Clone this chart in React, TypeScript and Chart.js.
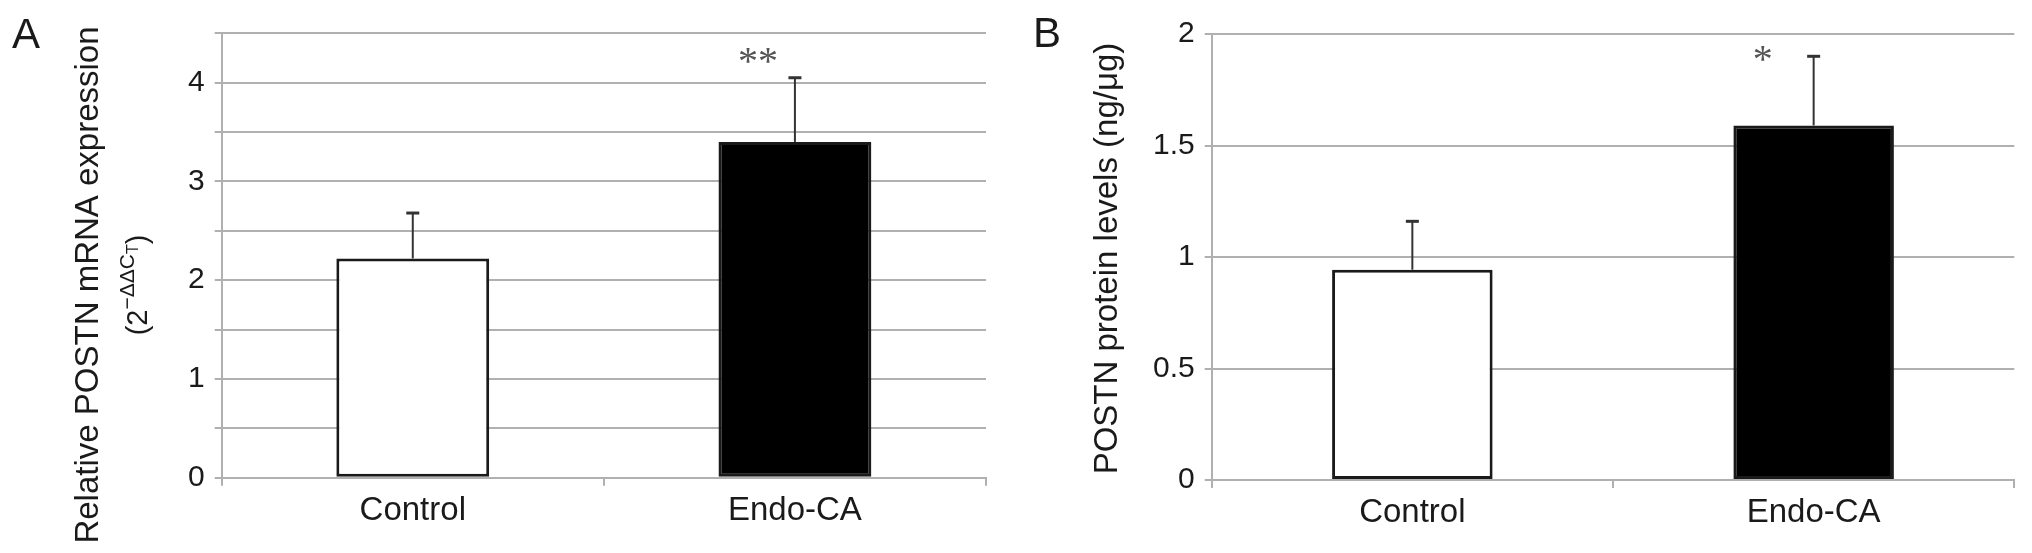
import React, { useEffect, useRef } from 'react';
import { Chart, registerables } from 'chart.js';

Chart.register(...registerables);

// ---------- data ----------
const categories = ['Control', 'Endo-CA'];

const mrnaValues = [2.22, 3.40];
const mrnaErrors = [0.46, 0.65];
const mrnaSignificance = ['', '**'];
const mrnaAxisMax = 4.5;
const mrnaAxisStep = 0.5;

const proteinValues = [0.943, 1.59];
const proteinErrors = [0.217, 0.31];
const proteinSignificance = ['', '*'];
const proteinAxisMax = 2;
const proteinAxisStep = 0.5;

// ---------- styles ----------
const FONT = '"Liberation Sans", Arial, Helvetica, sans-serif';
const SERIF = '"Liberation Serif", "Times New Roman", serif';
const TEXT = '#1a1a1a';
const GRID = '#b0b0b0';
const H = 553;

type Piece = { text: string; size: number; dy: number };

type Panel = {
  left: number;
  width: number;
  area: { left: number; right: number; top: number; bottom: number };
  letter: string;
  letterX: number;
  letterY: number;
  values: number[];
  errors: number[];
  stars: string[];
  starDx: number;
  starDy: number;
  max: number;
  step: number;
  integerLabelsOnly: boolean;
  titleX: number;
  titleCY: number;
  title: string;
  title2?: Piece[];
  title2X?: number;
};

const panels: Panel[] = [
  {
    left: 0,
    width: 1016,
    area: { left: 221.7, right: 986, top: 33.3, bottom: 477.7 },
    letter: 'A',
    letterX: 12,
    letterY: 48,
    values: mrnaValues,
    errors: mrnaErrors,
    stars: mrnaSignificance,
    starDx: -37,
    starDy: -21,
    max: mrnaAxisMax,
    step: mrnaAxisStep,
    integerLabelsOnly: true,
    titleX: 97.7,
    titleCY: 285,
    title: 'Relative POSTN mRNA expression',
    title2: [
      { text: '(', size: 29, dy: 0 },
      { text: '2', size: 29, dy: 0 },
      { text: '\u2212\u0394\u0394C', size: 21, dy: -13 },
      { text: 'T', size: 16, dy: -9 },
      { text: ')', size: 29, dy: 0 },
    ],
    title2X: 147,
  },
  {
    left: 1016,
    width: 1016,
    area: { left: 1211.7, right: 2014.3, top: 34, bottom: 480 },
    letter: 'B',
    letterX: 1033,
    letterY: 47,
    values: proteinValues,
    errors: proteinErrors,
    stars: proteinSignificance,
    starDx: -51,
    starDy: -2,
    max: proteinAxisMax,
    step: proteinAxisStep,
    integerLabelsOnly: false,
    titleX: 1117,
    titleCY: 258.5,
    title: 'POSTN protein levels (ng/\u03bcg)',
  },
];

function drawRotated(ctx: CanvasRenderingContext2D, baseX: number, cy: number, pieces: Piece[]) {
  ctx.save();
  ctx.translate(baseX, cy);
  ctx.rotate(-Math.PI / 2);
  ctx.fillStyle = TEXT;
  ctx.textBaseline = 'alphabetic';
  ctx.textAlign = 'left';
  let total = 0;
  const widths = pieces.map((p) => {
    ctx.font = `${p.size}px ${FONT}`;
    const w = ctx.measureText(p.text).width;
    total += w;
    return w;
  });
  let u = -total / 2;
  pieces.forEach((p, i) => {
    ctx.font = `${p.size}px ${FONT}`;
    ctx.fillText(p.text, u, p.dy);
    u += widths[i];
  });
  ctx.restore();
}

function makeConfig(p: Panel): any {
  const off = p.left;
  const decor = {
    id: 'decor' + p.letter,
    afterDatasetsDraw(chart: any) {
      const ctx = chart.ctx as CanvasRenderingContext2D;
      const meta = chart.getDatasetMeta(0);
      const ys = chart.scales.y;
      ctx.save();
      meta.data.forEach((bar: any, i: number) => {
        const x = bar.x;
        const base = ys.getPixelForValue(p.values[i]);
        const top = ys.getPixelForValue(p.values[i] + p.errors[i]);
        ctx.strokeStyle = '#333';
        ctx.lineWidth = 2;
        ctx.beginPath();
        ctx.moveTo(x, base);
        ctx.lineTo(x, top);
        ctx.stroke();
        ctx.lineWidth = 3;
        ctx.beginPath();
        ctx.moveTo(x - 6.5, top);
        ctx.lineTo(x + 6.5, top);
        ctx.stroke();
        if (p.stars[i]) {
          ctx.fillStyle = '#555';
          ctx.font = `40px ${SERIF}`;
          ctx.textAlign = 'center';
          ctx.textBaseline = 'middle';
          ctx.fillText(p.stars[i], x + p.starDx, top + p.starDy + 7);
        }
      });
      ctx.restore();
    },
    afterDraw(chart: any) {
      const ctx = chart.ctx as CanvasRenderingContext2D;
      ctx.save();
      ctx.fillStyle = TEXT;
      ctx.font = `42px ${FONT}`;
      ctx.textAlign = 'left';
      ctx.textBaseline = 'alphabetic';
      ctx.fillText(p.letter, p.letterX - off, p.letterY);
      ctx.restore();
      drawRotated(ctx, p.titleX - off, p.titleCY, [{ text: p.title, size: 33, dy: 0 }]);
      if (p.title2 && p.title2X) drawRotated(ctx, p.title2X - off, p.titleCY, p.title2);
    },
  };

  return {
    type: 'bar',
    data: {
      labels: categories,
      datasets: [
        {
          data: p.values,
          backgroundColor: ['#ffffff', '#000000'],
          borderColor: '#1a1a1a',
          borderWidth: 3,
          borderSkipped: false,
          barPercentage: 0.4,
          categoryPercentage: 1,
        },
      ],
    },
    plugins: [decor],
    options: {
      animation: false,
      responsive: false,
      maintainAspectRatio: false,
      devicePixelRatio: 1,
      layout: {
        padding: { left: 0, right: p.left + p.width - p.area.right, top: p.area.top, bottom: 0 },
      },
      plugins: { legend: { display: false }, tooltip: { enabled: false } },
      scales: {
        x: {
          type: 'category',
          offset: true,
          grid: {
            display: true,
            offset: true,
            drawOnChartArea: false,
            drawTicks: true,
            tickLength: 8,
            color: GRID,
            lineWidth: 2,
          },
          border: { display: true, color: GRID, width: 2 },
          ticks: {
            color: TEXT,
            font: { family: FONT, size: 33 },
            padding: 5,
            maxRotation: 0,
            autoSkip: false,
          },
          afterFit: (axis: any) => {
            axis.height = H - p.area.bottom;
          },
        },
        y: {
          min: 0,
          max: p.max,
          grid: { color: GRID, lineWidth: 2, tickLength: 7, drawTicks: true },
          border: { display: true, color: GRID, width: 2 },
          ticks: {
            stepSize: p.step,
            padding: 10,
            color: TEXT,
            font: { family: FONT, size: 30 },
            callback: (v: any) => {
              const n = Number(v);
              if (p.integerLabelsOnly && Math.abs(n - Math.round(n)) > 1e-9) return '';
              return String(n);
            },
          },
          afterFit: (axis: any) => {
            axis.width = p.area.left - p.left;
          },
        },
      },
    },
  };
}

function PanelChart({ p }: { p: Panel }) {
  const ref = useRef<HTMLCanvasElement | null>(null);
  useEffect(() => {
    if (!ref.current) return;
    const chart = new Chart(ref.current, makeConfig(p));
    return () => chart.destroy();
  }, [p]);
  return (
    <canvas
      ref={ref}
      width={p.width}
      height={H}
      style={{ position: 'absolute', left: p.left, top: 0, width: p.width, height: H }}
    />
  );
}

export default function App() {
  return (
    <div
      style={{
        position: 'fixed',
        left: 0,
        top: 0,
        width: 2032,
        height: H,
        background: '#ffffff',
        overflow: 'hidden',
      }}
    >
      {panels.map((p) => (
        <PanelChart key={p.letter} p={p} />
      ))}
    </div>
  );
}
